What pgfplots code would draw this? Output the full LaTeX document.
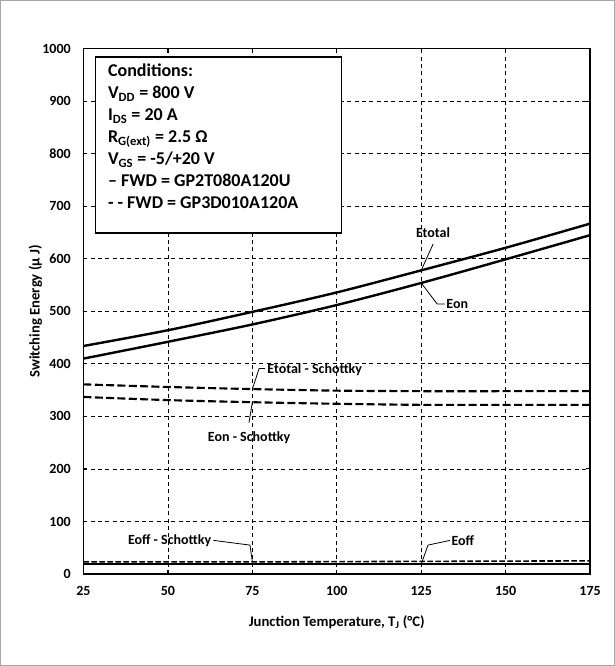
\documentclass[border=0pt]{standalone}
\usepackage{pgfplots}
\pgfplotsset{compat=1.18}
\usepackage{fontspec}
\setmainfont{Carlito}
\begin{document}
\begin{tikzpicture}
\useasboundingbox (-62.6pt,-69pt) rectangle (398.6pt,430.5pt);
\draw[gray!70, line width=0.8pt] (-62pt,-68.4pt) rectangle (398pt,429.9pt);
\begin{axis}[
  at={(0,0)}, anchor=south west,
  scale only axis, width=380pt, height=394pt,
  xmin=25, xmax=175, ymin=0, ymax=1000,
  xtick={25,50,...,175}, ytick={0,100,...,1000},
  tick align=inside, tick pos=both, major tick length=3pt,
  grid=major, major grid style={black, line width=0.6pt, dash pattern=on 3pt off 2.5pt},
  axis line style={line width=1pt},
  every tick/.style={black, line width=0.8pt},
  /pgf/number format/assume math mode=true,
  /pgf/number format/set thousands separator={},
  ticklabel style={font=\fontsize{10.5}{12}\selectfont\bfseries},
  xticklabel style={anchor=center, yshift=-12.5pt},
  yticklabel style={anchor=east, xshift=-6pt},
  xlabel={Junction Temperature, T\textsubscript{J} (°C)},
  xlabel style={font=\fontsize{11}{13}\selectfont\bfseries, at={(axis description cs:0.5,0)}, anchor=center, yshift=-36pt},
  ylabel={Switching Energy (µ J)},
  ylabel style={font=\fontsize{11}{13}\selectfont\bfseries, at={(axis description cs:-0.095,0.5)}, anchor=center, rotate=0},
]
\addplot[black, line width=1.8pt, smooth] coordinates {(25,434) (50,464) (75,499) (100,536) (125,578) (150,621) (175,667)};
\addplot[black, line width=1.8pt, smooth] coordinates {(25,410) (50,442) (75,475) (100,512) (125,554) (150,599) (175,645)};
\addplot[black, line width=1.6pt, smooth, dash pattern=on 6pt off 2.5pt] coordinates {(25,361) (50,356) (75,352) (100,349) (125,348) (150,348) (175,348)};
\addplot[black, line width=1.6pt, smooth, dash pattern=on 6pt off 2.5pt] coordinates {(25,337) (50,331) (75,327) (100,324) (125,322) (150,322) (175,322)};
\addplot[black, line width=1.6pt] coordinates {(25,19) (50,19) (75,19) (100,19) (125,19) (150,19) (175,19)};
\addplot[black, line width=1.2pt, dash pattern=on 4pt off 2pt] coordinates {(25,23) (50,23) (75,23) (100,23.5) (125,24) (150,24.5) (175,25)};
% conditions box
\draw[black, line width=0.9pt, fill=white] (axis cs:28.6,984) rectangle (axis cs:101.5,649);
\node[anchor=north west, align=left, inner sep=0pt, font=\fontsize{13.5}{16.5}\selectfont\bfseries] at (axis cs:32.2,971) {Conditions:\\
V\textsubscript{DD} = 800 V\\
I\textsubscript{DS} = 20 A\\
R\textsubscript{G(ext)} = 2.5 Ω\\
V\textsubscript{GS} = -5/+20 V\\
– FWD = GP2T080A120U\\
- - FWD = GP3D010A120A};
% annotations
\def\af{\fontsize{10.5}{12}\selectfont\bfseries}
\draw[black, line width=0.6pt] (axis cs:125,578) -- (axis cs:128.5,628);
\node[font=\af] at (axis cs:128.5,650) {Etotal};
\draw[black, line width=0.6pt] (axis cs:125,554) -- (axis cs:129.7,514) -- (axis cs:132,514);
\node[font=\af, anchor=west, inner sep=1pt] at (axis cs:132,514) {Eon};
\draw[black, line width=0.6pt] (axis cs:75,352) -- (axis cs:77,391) -- (axis cs:78.8,391);
\node[font=\af, anchor=west, inner sep=1pt] at (axis cs:79,388) {Etotal - Schottky};
\draw[black, line width=0.6pt] (axis cs:75,327) -- (axis cs:74,288);
\node[font=\af, anchor=east, inner sep=1pt] at (axis cs:86.7,260) {Eon - Schottky};
\draw[black, line width=0.6pt] (axis cs:75,23) -- (axis cs:74.3,55) -- (axis cs:63.5,64);
\node[font=\af, anchor=east, inner sep=1pt] at (axis cs:63.3,64) {Eoff - Schottky};
\draw[black, line width=0.6pt] (axis cs:125,19) -- (axis cs:127,55) -- (axis cs:133.5,64);
\node[font=\af, anchor=west, inner sep=1pt] at (axis cs:133.5,64) {Eoff};
\end{axis}
\end{tikzpicture}
\end{document}
